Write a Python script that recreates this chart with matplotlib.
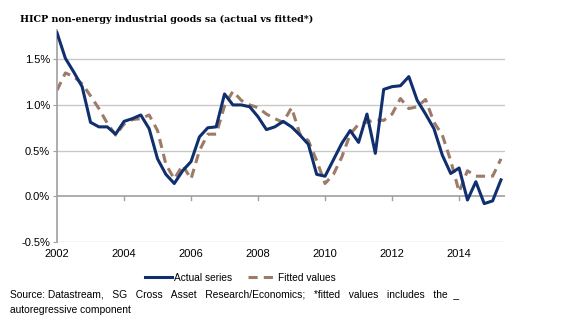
import matplotlib
matplotlib.use('Agg')
import matplotlib.pyplot as plt
from matplotlib.lines import Line2D
import numpy as np

# quarterly, 2002Q1 .. 2015Q2
years = np.arange(2002, 2015.26, 0.25)

actual = [1.79, 1.51, 1.36, 1.20, 0.81, 0.76, 0.76, 0.68,
          0.82, 0.85, 0.89, 0.74, 0.41, 0.24, 0.14, 0.28,
          0.38, 0.65, 0.75, 0.76, 1.12, 1.00, 1.00, 0.98,
          0.87, 0.73, 0.76, 0.82, 0.76, 0.67, 0.57, 0.24,
          0.22, 0.40, 0.58, 0.72, 0.59, 0.90, 0.47, 1.17,
          1.20, 1.21, 1.31, 1.05, 0.90, 0.74, 0.45, 0.25,
          0.31, -0.04, 0.16, -0.08, -0.05, 0.18]

fitted = [1.16, 1.35, 1.31, 1.23, 1.10, 0.96, 0.80, 0.67,
          0.79, 0.84, 0.85, 0.89, 0.72, 0.35, 0.19, 0.34,
          0.19, 0.50, 0.68, 0.68, 0.99, 1.15, 1.05, 1.00,
          0.97, 0.90, 0.85, 0.81, 0.97, 0.68, 0.61, 0.39,
          0.14, 0.24, 0.43, 0.68, 0.79, 0.81, 0.84, 0.83,
          0.90, 1.07, 0.96, 0.98, 1.06, 0.81, 0.67, 0.39,
          0.05, 0.28, 0.22, 0.22, 0.22, 0.41]

yticks = [-0.5, 0.0, 0.5, 1.0, 1.5]
xticks = [2002, 2004, 2006, 2008, 2010, 2012, 2014]

navy = '#0f2f6e'
brown = '#9c7b69'
grid = '#c8c8c8'

plt.rcParams['font.family'] = ['Liberation Sans', 'DejaVu Sans']

fig = plt.figure(figsize=(5.87, 3.22), dpi=100)
ax = fig.add_axes([57 / 587, 1 - 242 / 322, (505 - 57) / 587, (242 - 30) / 322])

for v in yticks:
    if v != 0:
        ax.axhline(v, color=grid, lw=1.0, zorder=0)
ax.axhline(0, color='#a0a0a0', lw=1.2, zorder=1)

ax.plot(years, fitted, color=brown, lw=2.2, dashes=(3, 2), zorder=2)
ax.plot(years, actual, color=navy, lw=2.2, zorder=3)

# small ticks on the zero line
for x in xticks[1:]:
    ax.plot([x, x], [0, -0.04], color='#a0a0a0', lw=1, zorder=1, clip_on=False)

ax.set_xlim(2002, 2015.37)
ax.set_ylim(-0.5, 1.82)
ax.set_xticks(xticks)
ax.set_xticklabels([str(x) for x in xticks], fontsize=8)
ax.set_yticks(yticks)
ax.set_yticklabels([f'{v:.1f}%' for v in yticks], fontsize=8)
ax.tick_params(axis='x', length=0, pad=5)
ax.tick_params(axis='y', length=3, color='#a0a0a0', pad=2)

for s in ['top', 'right', 'bottom']:
    ax.spines[s].set_visible(False)
ax.spines['left'].set_color('#a0a0a0')
ax.spines['left'].set_linewidth(1.2)

fig.text(20 / 587, 1 - 22 / 322,
         'HICP non-energy industrial goods sa (actual vs fitted*)',
         family='DejaVu Serif', fontweight='bold', fontsize=6.8,
         va='baseline', ha='left')

handles = [Line2D([], [], color=navy, lw=2.2),
           Line2D([], [], color=brown, lw=2.2, dashes=(3, 2))]
fig.legend(handles, ['Actual series', 'Fitted values'],
           loc='center', bbox_to_anchor=(240 / 587, 1 - 278 / 322),
           ncol=2, frameon=False, fontsize=7.3, handlelength=2.7,
           handletextpad=0.2, columnspacing=1.6)

fig.text(10 / 587, 1 - 297 / 322,
         'Source: Datastream,   SG   Cross   Asset   Research/Economics;   '
         '*fitted   values   includes   the  _',
         fontsize=7.4, va='baseline', ha='left')
fig.text(10 / 587, 1 - 313 / 322, 'autoregressive component',
         fontsize=7.4, va='baseline', ha='left')

fig.savefig('out.png', dpi=100)
